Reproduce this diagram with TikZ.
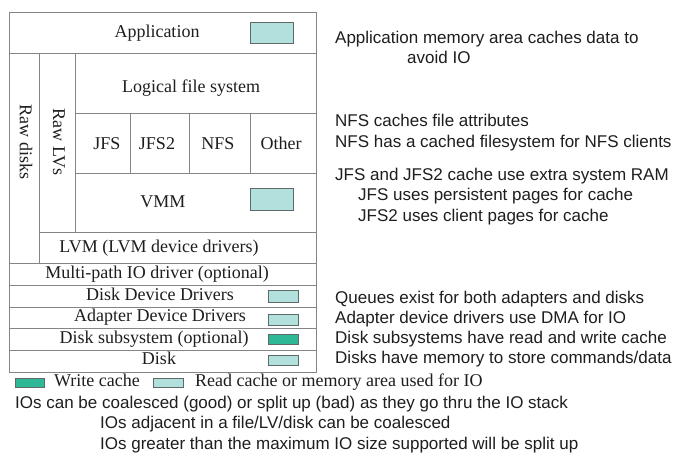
\documentclass[tikz,border=0pt]{standalone}
\usepackage{fontspec}
\setmainfont{Liberation Serif}
\newfontfamily\arialf{Liberation Sans}
\definecolor{gridc}{HTML}{858585}
\definecolor{readc}{HTML}{B2E0DC}
\definecolor{writec}{HTML}{2FB896}
\definecolor{cborder}{HTML}{5E6A68}
\definecolor{txtc}{HTML}{1E1E1E}
\tikzset{
  grid/.style={draw=gridc, line width=1pt},
  rcache/.style={draw=cborder, fill=readc, line width=0.9pt},
  wcache/.style={draw=cborder, fill=writec, line width=0.9pt},
  boxtext/.style={font=\fontsize{18}{20}\selectfont, text=txtc, inner sep=0pt, anchor=base},
  note/.style={font=\arialf\fontsize{17}{20}\selectfont, text=txtc, inner sep=0pt, anchor=base west},
}
\begin{document}
\begin{tikzpicture}[x=1pt,y=-1pt]
\useasboundingbox[fill=white] (0,0) rectangle (675,453);
% grid
\draw[grid] (9,12) rectangle (316,372);
\draw[grid] (9,53) -- (316,53);
\draw[grid] (75,113) -- (316,113);
\draw[grid] (75,173) -- (316,173);
\draw[grid] (39,232) -- (316,232);
\draw[grid] (9,263) -- (316,263);
\draw[grid] (9,285) -- (316,285);
\draw[grid] (9,307) -- (316,307);
\draw[grid] (9,328) -- (316,328);
\draw[grid] (9,350) -- (316,350);
\draw[grid] (39,53) -- (39,263);
\draw[grid] (75,53) -- (75,232);
\draw[grid] (130,113) -- (130,173);
\draw[grid] (189,113) -- (189,173);
\draw[grid] (250,113) -- (250,173);
% cache boxes
\draw[rcache] (250,22) rectangle (293,43);
\draw[rcache] (250,188) rectangle (293,210);
\draw[rcache] (268,290) rectangle (298,302);
\draw[rcache] (268,314) rectangle (298,325);
\draw[wcache] (268,334) rectangle (298,344);
\draw[rcache] (268,355) rectangle (298,365);
\draw[wcache] (15,378) rectangle (44,387);
\draw[rcache] (153,378) rectangle (183,387);
% box texts
\node[boxtext] (app) at (157,37) {Application};
\node[boxtext] (lfs) at (191,92) {Logical file system};
\node[boxtext] (jfs) at (107,149) {JFS};
\node[boxtext] (jfs2) at (157,149) {JFS2};
\node[boxtext] (nfs) at (218,149) {NFS};
\node[boxtext] (other) at (281,149) {Other};
\node[boxtext] (vmm) at (163,207) {VMM};
\node[boxtext] (lvm) at (159,252) {LVM (LVM device drivers)};
\node[boxtext] (mpio) at (157,278) {Multi-path IO driver (optional)};
\node[boxtext] (ddd) at (160,300) {Disk Device Drivers};
\node[boxtext] (add) at (160,321) {Adapter Device Drivers};
\node[boxtext] (dss) at (154,343) {Disk subsystem (optional)};
\node[boxtext] (disk) at (159,364) {Disk};
\node[boxtext, anchor=center, rotate=-90] (rawd) at (26,142) {Raw disks};
\node[boxtext, anchor=center, rotate=-90] (rawlv) at (59,142) {Raw LVs};
% legend
\node[boxtext, anchor=base west] (lw) at (54,386) {Write cache};
\node[boxtext, anchor=base west] (lr) at (195,386) {Read cache or memory area used for IO};
% notes
\node[note] (n1) at (335,43) {Application memory area caches data to};
\node[note] (n1b) at (407,63) {avoid IO};
\node[note] (n2) at (335,126) {NFS caches file attributes};
\node[note] (n3) at (335,147) {NFS has a cached filesystem for NFS clients};
\node[note] (n4) at (335,180) {JFS and JFS2 cache use extra system RAM};
\node[note] (n5) at (358,200) {JFS uses persistent pages for cache};
\node[note] (n6) at (358,221) {JFS2 uses client pages for cache};
\node[note] (n7) at (335,303) {Queues exist for both adapters and disks};
\node[note] (n8) at (335,323) {Adapter device drivers use DMA for IO};
\node[note] (n9) at (335,343) {Disk subsystems have read and write cache};
\node[note] (n10) at (335,363) {Disks have memory to store commands/data};
\node[note] (b1) at (15,408) {IOs can be coalesced (good) or split up (bad) as they go thru the IO stack};
\node[note] (b2) at (100,428) {IOs adjacent in a file/LV/disk can be coalesced};
\node[note] (b3) at (100,449) {IOs greater than the maximum IO size supported will be split up};
\end{tikzpicture}
\end{document}
